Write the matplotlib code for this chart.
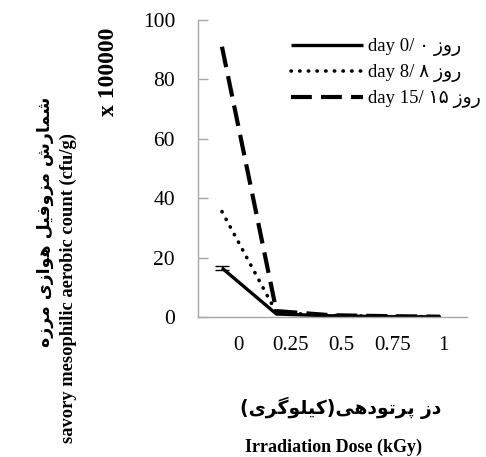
import matplotlib
matplotlib.use("Agg")
import matplotlib.pyplot as plt

# dose categories and counts (x 100000 cfu/g)
doses = ["0", "0.25", "0.5", "0.75", "1"]
day0 = [16.5, 1.0, 0.4, 0.1, 0.05]
day0_err = [0.8, 0.0, 0.0, 0.0, 0.0]
day8 = [35.5, 1.5, 0.5, 0.2, 0.1]
day15 = [91.0, 2.0, 0.6, 0.3, 0.1]

# Persian text written in presentation forms, visual order
roz = "\uFEAF\uFEED\uFEAD"
legend_labels = [
    "day 0/ \u06F0 " + roz,
    "day 8/ \u06F8 " + roz,
    "day 15/ \u06F1\u06F5 " + roz,
]
ylabel_fa = ("\uFEE9\uFEAF\uFEAE\uFEE3 "
             "\uFEEF\uFEAF\uFE8D\uFEEE\uFEEB "
             "\uFEDE\uFEF4\uFED3\uFEED\uFEB0\uFEE3 "
             "\uFEB5\uFEAD\uFE8E\uFEE4\uFEB7")
xlabel_fa = ("(\uFEEF\uFEAE\uFB94\uFEEE\uFEE0\uFEF4\uFB90)"
             "\uFEF0\uFEEB\uFEA9\uFEEE\uFE97\uFEAE\uFB58 "
             "\uFEAF\uFEA9")

serif = ["Liberation Serif", "DejaVu Sans"]
plt.rcParams["font.family"] = serif

fig = plt.figure(figsize=(4.86, 4.57), dpi=100)
W, H = 486, 457
ax = fig.add_axes([198 / W, 1 - 317 / H, (467 - 198) / W, (317 - 20) / H])

x = list(range(len(doses)))
ax.plot(x, day0, color="black", lw=2.4, solid_capstyle="butt", label=legend_labels[0])
ax.errorbar(x[:1], day0[:1], yerr=day0_err[:1], fmt="none", ecolor="black",
            elinewidth=1, capsize=5, capthick=1)
ax.plot(x, day8, color="black", lw=2.6, linestyle=(0, (0.1, 2.3)),
        dash_capstyle="round", label=legend_labels[1])
ax.plot(x, day15, color="black", lw=3.0, linestyle=(0, (5, 2.2)),
        dash_capstyle="butt", label=legend_labels[2])

ax.set_xlim(-0.44, 4.5)
ax.set_ylim(0, 100)
ax.set_yticks(range(0, 101, 20))
ax.set_xticks([i * 0.94 + 0.31 for i in x])
ax.set_xticklabels(doses)
ax.tick_params(axis="x", length=0, pad=14, labelsize=15)
ax.tick_params(axis="y", direction="in", length=7, width=1, color="#a6a6a6",
               pad=16.5, labelsize=15.5)

for side in ["top", "right"]:
    ax.spines[side].set_visible(False)
for side in ["left", "bottom"]:
    ax.spines[side].set_color("#a6a6a6")
    ax.spines[side].set_linewidth(1)

leg = ax.legend(loc="upper left", bbox_to_anchor=(82 / 269, 1 - 7 / 297),
                frameon=False, fontsize=13.5, handlelength=3.8,
                handletextpad=0.3, labelspacing=0.42, borderaxespad=0.2)

fig.text(108 / W, 1 - 72 / H, "x 100000", rotation=90, ha="center", va="center",
         fontsize=17, fontweight="bold")
fig.text(68 / W, 1 - 288 / H, "savory mesophilic aerobic count (cfu/g)",
         rotation=90, ha="center", va="center", fontsize=13.3, fontweight="bold")
fig.text(45 / W, 1 - 222 / H, ylabel_fa, rotation=90, ha="center", va="center",
         fontsize=12.5, fontweight="bold", family="DejaVu Sans")
fig.text(341 / W, 1 - 408 / H, xlabel_fa, ha="center", va="center",
         fontsize=13.5, fontweight="bold", family="DejaVu Sans")
fig.text(333 / W, 1 - 447 / H, "Irradiation Dose (kGy)", ha="center", va="center",
         fontsize=13, fontweight="bold")

fig.savefig("out.png", dpi=100)
